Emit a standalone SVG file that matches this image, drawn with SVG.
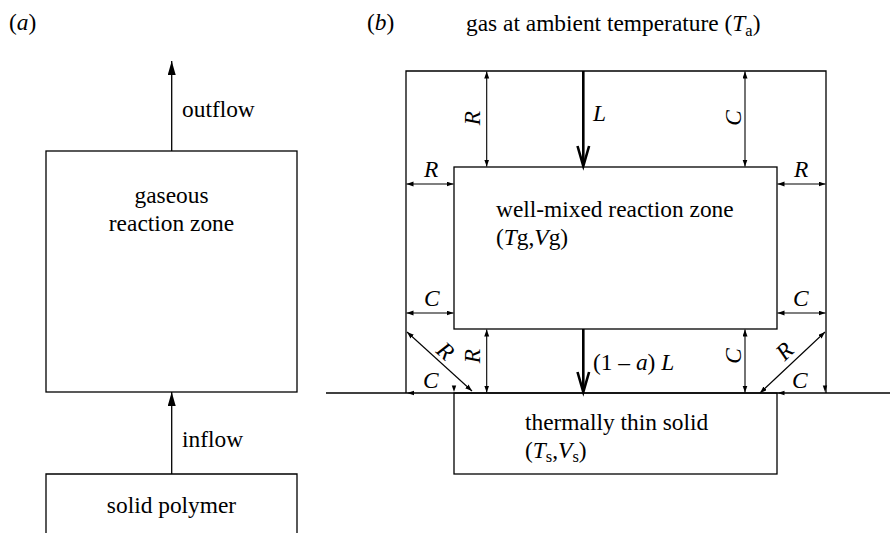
<svg xmlns="http://www.w3.org/2000/svg" width="891" height="533" viewBox="0 0 891 533">
<style>
text{font-family:"Liberation Serif","Times New Roman",serif;font-size:23.4px;fill:#000}
.i{font-style:italic}
.ln{stroke:#000;stroke-width:1.3;fill:none}
.thin{stroke:#000;stroke-width:1.1;fill:none}
.thick{stroke:#000;stroke-width:2.6;fill:none}
.mid{text-anchor:middle}
</style>
<defs>
<marker id="big" markerUnits="userSpaceOnUse" markerWidth="16" markerHeight="10" refX="14" refY="4" orient="auto">
<path d="M0,0 L14,4 L0,8 z" fill="#000"/>
</marker>
<marker id="sm" markerUnits="userSpaceOnUse" markerWidth="8" markerHeight="6" refX="7" refY="2.5" orient="auto-start-reverse">
<path d="M0,0 L7,2.5 L0,5 z" fill="#000"/>
</marker>
</defs>

<text x="9" y="30">(<tspan class="i">a</tspan>)</text>
<text x="367" y="30">(<tspan class="i">b</tspan>)</text>
<text x="466" y="31">gas at ambient temperature (<tspan class="i">T</tspan><tspan font-size="16.5" dy="5">a</tspan><tspan dy="-5">)</tspan></text>

<g id="gaseous">
<rect class="ln" x="46" y="151" width="251" height="241"/>
<text class="mid" x="171.5" y="203">gaseous</text>
<text class="mid" x="171.5" y="231">reaction zone</text>
</g>
<g id="polymer">
<path class="ln" d="M46,533 V474 H297 V533"/>
<text class="mid" x="171.5" y="513">solid polymer</text>
</g>

<g id="frame">
<path class="ln" d="M406,393 V71 H826 V393"/>
<line class="ln" x1="326" y1="393" x2="890" y2="393"/>
</g>
<g id="wellmixed">
<rect class="ln" x="454" y="167" width="323" height="162"/>
<text x="496" y="217">well-mixed reaction zone</text>
<text x="496" y="245">(<tspan class="i">T</tspan>g,<tspan class="i">V</tspan>g)</text>
</g>
<g id="solid">
<rect class="ln" x="454" y="393" width="323" height="81"/>
<text x="525" y="430">thermally thin solid</text>
<text x="525" y="458">(<tspan class="i">T</tspan><tspan font-size="16.5" dy="4">s</tspan><tspan dy="-4">,</tspan><tspan class="i">V</tspan><tspan font-size="16.5" dy="4">s</tspan><tspan dy="-4">)</tspan></text>
</g>

<g id="connectors">
<line class="ln" x1="171.7" y1="151" x2="171.7" y2="61" marker-end="url(#big)"/>
<text x="182" y="117">outflow</text>
<line class="ln" x1="171.7" y1="474" x2="171.7" y2="392" marker-end="url(#big)"/>
<text x="182" y="447">inflow</text>

<!-- top -->
<line class="thin" x1="486.7" y1="71.5" x2="486.7" y2="166.5" marker-start="url(#sm)" marker-end="url(#sm)"/>
<text x="480" y="118" class="i mid" transform="rotate(-90 480 118)">R</text>
<line class="thick" x1="583.3" y1="71" x2="583.3" y2="164"/>
<path class="thick" d="M577.5,146 L583.3,166 L589.1,146"/>
<text x="593" y="121" class="i">L</text>
<line class="thin" x1="745" y1="71.5" x2="745" y2="166.5" marker-start="url(#sm)" marker-end="url(#sm)"/>
<text x="740.5" y="118" class="i mid" transform="rotate(-90 740.5 118)">C</text>

<!-- sides -->
<line class="thin" x1="406.5" y1="184" x2="453.5" y2="184" marker-start="url(#sm)" marker-end="url(#sm)"/>
<text x="424" y="177" class="i">R</text>
<line class="thin" x1="777.5" y1="184" x2="825.5" y2="184" marker-start="url(#sm)" marker-end="url(#sm)"/>
<text x="794" y="177" class="i">R</text>
<line class="thin" x1="406.5" y1="313" x2="453.5" y2="313" marker-start="url(#sm)" marker-end="url(#sm)"/>
<text x="424" y="306" class="i">C</text>
<line class="thin" x1="777.5" y1="313" x2="825.5" y2="313" marker-start="url(#sm)" marker-end="url(#sm)"/>
<text x="793" y="306" class="i">C</text>

<!-- bottom -->
<line class="thin" x1="486.7" y1="329.5" x2="486.7" y2="392.5" marker-start="url(#sm)" marker-end="url(#sm)"/>
<text x="480" y="356" class="i mid" transform="rotate(-90 480 356)">R</text>
<line class="thick" x1="583.3" y1="329" x2="583.3" y2="390"/>
<path class="thick" d="M577.5,372 L583.3,392 L589.1,372"/>
<text x="593" y="370">(1 – <tspan class="i">a</tspan>) <tspan class="i">L</tspan></text>
<line class="thin" x1="745" y1="329.5" x2="745" y2="392.5" marker-start="url(#sm)" marker-end="url(#sm)"/>
<text x="740.5" y="356" class="i mid" transform="rotate(-90 740.5 356)">C</text>

<!-- corners -->
<line class="thin" x1="407" y1="332" x2="472" y2="391" marker-start="url(#sm)" marker-end="url(#sm)"/>
<text x="440.3" y="356.9" class="i mid" transform="rotate(42 440.3 356.9)">R</text>
<text x="423" y="388" class="i">C</text>
<path d="M407,393 L414,390.8 L414,395.2 z" fill="#000"/>
<path d="M454,392 L451.8,385.5 L456.2,385.5 z" fill="#000"/>

<line class="thin" x1="825" y1="332" x2="760" y2="393" marker-start="url(#sm)" marker-end="url(#sm)"/>
<text x="789.8" y="356.7" class="i mid" transform="rotate(-44 789.8 356.7)">R</text>
<text x="792" y="388" class="i">C</text>
<path d="M777.5,393 L784.5,390.8 L784.5,395.2 z" fill="#000"/>
<path d="M825,392 L822.8,385.5 L827.2,385.5 z" fill="#000"/>
</g>
</svg>
